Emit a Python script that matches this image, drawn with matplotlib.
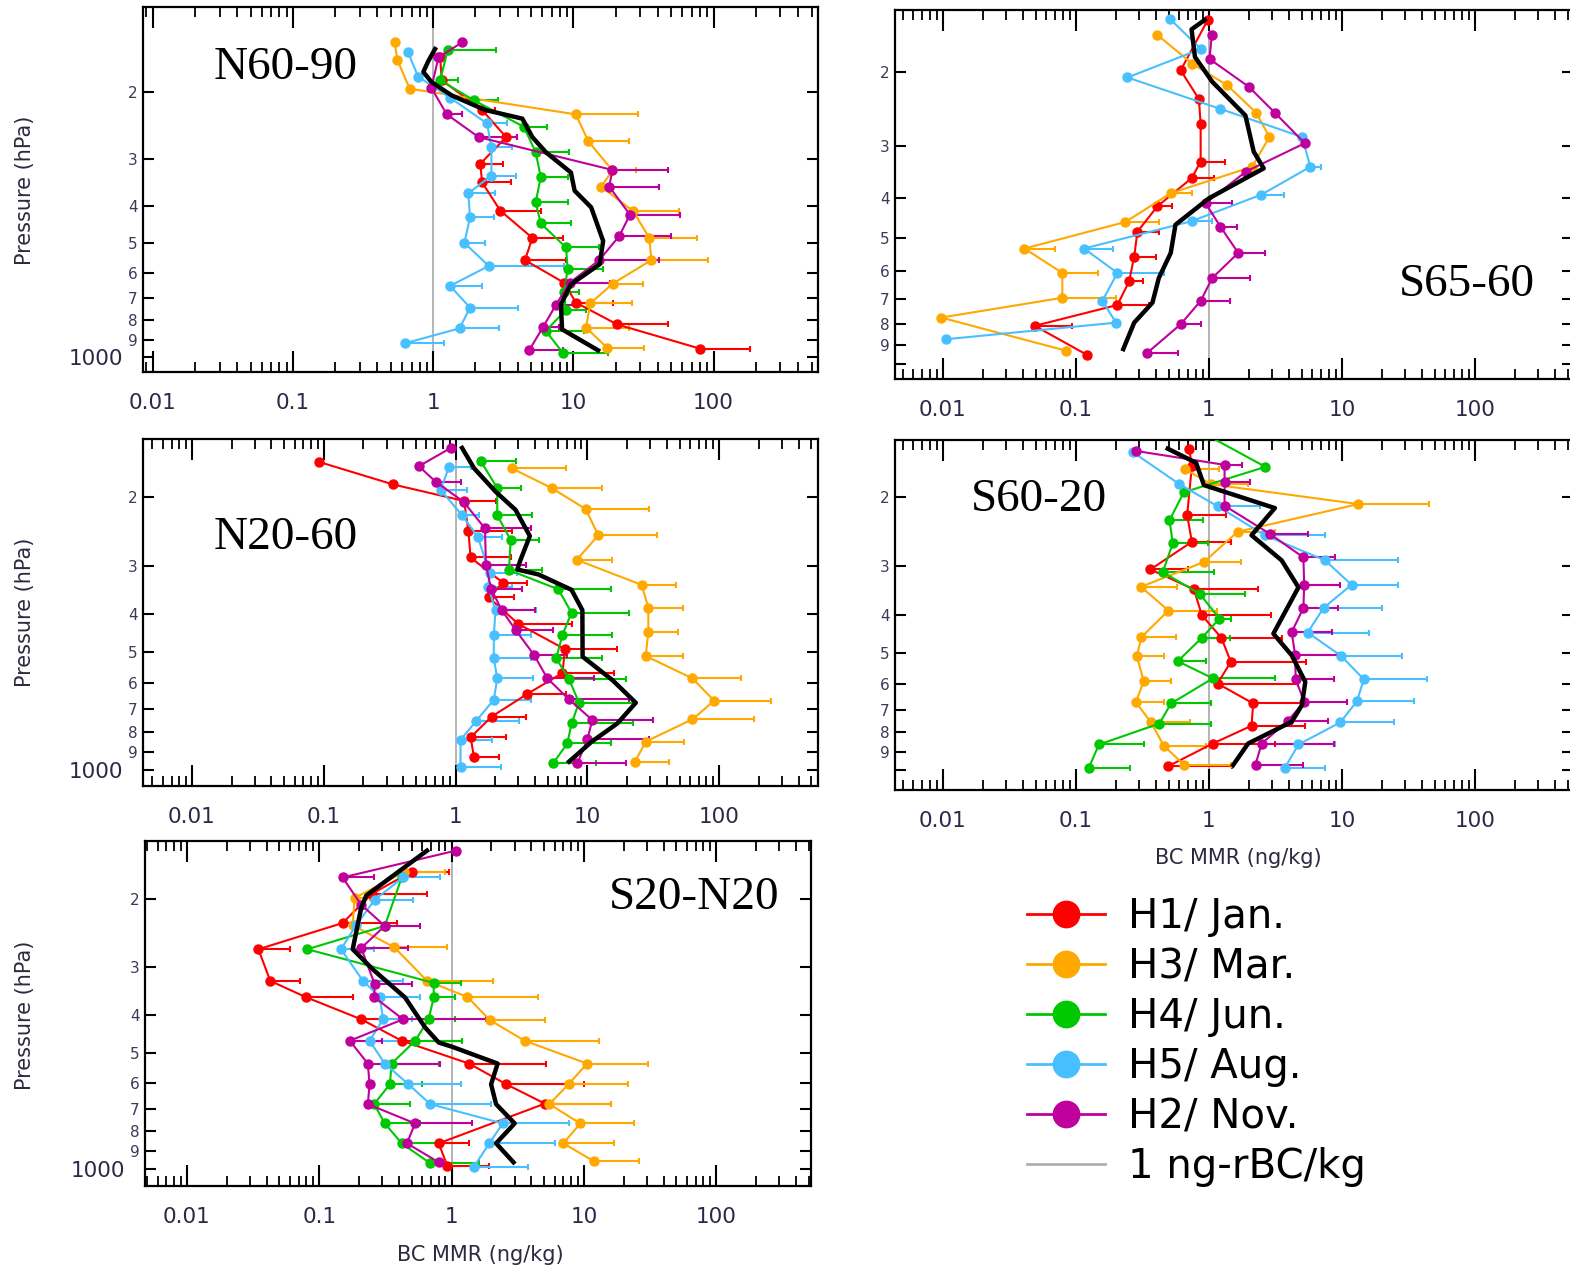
import numpy as np
import matplotlib
matplotlib.use("Agg")
import matplotlib.pyplot as plt
from matplotlib.lines import Line2D
from matplotlib.ticker import LogLocator, NullLocator, NullFormatter

# rows: (pressure hPa, BC MMR ng/kg, right end of error bar or None)
# ---- N60-90
N6090_JAN = [(162, 1.12, None), (186, 1.15, None), (223, 2.23, 2.78), (263, 3.31, 3.97), (309, 2.17, 3.14),
             (346, 2.23, 3.56), (411, 3.01, 5.84), (485, 5.1, 8.4), (555, 4.51, 8.85), (637, 8.6, None),
             (718, 10.4, 19.2), (820, 20.5, 47.6), (951, 80.6, 183)]
N6090_MAR = [(148, 0.53, None), (165, 0.556, None), (196, 0.68, None), (229, 10.4, 29), (270, 12.8, 25),
             (322, 19, 27.8), (355, 15.8, None), (413, 26.8, 57), (485, 34.8, 76), (555, 36, 91),
             (640, 19.1, 31.4), (722, 13.2, 26), (836, 12.3, 25), (945, 17.4, 32)]
N6090_JUN = [(155, 1.27, 2.81), (186, 1.12, 1.5), (210, 1.94, 2.9), (247, 4.43, 6.5), (288, 5.38, 9.36),
             (335, 5.85, 9.2), (391, 5.38, 9.1), (444, 5.85, 9.6), (514, 8.86, 15.3), (586, 9.1, 16.2),
             (672, 8.6, 11), (753, 8.8, 12.3), (853, 6.35, 12), (974, 8.4, 17.6)]
N6090_AUG = [(157, 0.66, None), (182, 0.78, None), (207, 1.32, None), (242, 2.42, 3.37), (280, 2.6, 3.66),
             (332, 2.6, 3.9), (370, 1.78, 2.78), (428, 1.83, 2.7), (500, 1.67, 2.33), (575, 2.49, 8.6),
             (649, 1.32, 2.23), (741, 1.83, 4.04), (840, 1.54, 2.93), (920, 0.626, 1.2)]
N6090_NOV = [(148, 1.6, None), (162, 1.09, None), (195, 0.97, None), (229, 1.25, 1.6), (263, 2.11, 3.97),
             (321, 19, 47.6), (355, 18, 41), (421, 25.3, 57.5), (479, 21.3, 50), (555, 15.3, 41),
             (637, 9.4, 18.1), (729, 7.5, 11), (833, 6.08, 7.9), (960, 4.83, 8.4)]
N6090_MEAN = [(154, 1.03), (166, 0.92), (177, 0.85), (188, 0.97), (204, 1.35), (223, 2.35), (235, 4.32),
              (263, 5.1), (288, 6.35), (326, 9.6), (364, 10.2), (403, 13.4), (494, 16.3), (569, 15.4),
              (643, 9.6), (725, 8.15), (845, 8.3), (898, 11), (960, 15)]

# ---- S65-60 (no June data)
S6560_JAN = [(150, 0.98, None), (198, 0.613, None), (232, 0.84, None), (266, 0.866, None), (328, 0.866, 1.33),
             (359, 0.74, 1.09), (419, 0.41, 0.53), (482, 0.29, 0.42), (553, 0.274, 0.4), (634, 0.251, 0.32),
             (722, 0.205, 0.355), (810, 0.049, 0.094), (952, 0.122, None)]
S6560_MAR = [(163, 0.41, None), (191, 0.75, None), (215, 1.37, None), (250, 2.26, None), (286, 2.85, None),
             (337, 2.11, None), (390, 0.516, 0.74), (457, 0.235, 0.42), (529, 0.041, 0.07), (605, 0.079, 0.147),
             (694, 0.079, 0.2), (774, 0.0097, None), (929, 0.084, None)]
S6560_AUG = [(149, 0.507, None), (176, 0.87, None), (206, 0.244, None), (245, 1.22, None), (286, 5.01, None),
             (337, 5.79, 6.9), (393, 2.48, 3.65), (455, 0.74, 1.06), (529, 0.115, 0.19), (605, 0.205, 0.46),
             (706, 0.158, None), (796, 0.2, None), (872, 0.0106, None)]
S6560_NOV = [(163, 1.05, None), (186, 1.01, None), (217, 2.0, None), (251, 3.16, None), (296, 5.25, None),
             (346, 1.9, None), (412, 0.944, 1.5), (469, 1.22, 1.63), (542, 1.66, 2.66), (622, 1.06, 2.05),
             (706, 0.866, 1.45), (803, 0.613, 0.866), (943, 0.34, 0.59)]
S6560_MEAN = [(150, 0.93), (158, 0.74), (184, 0.785), (211, 1.06), (254, 1.88), (310, 2.17), (340, 2.58),
              (401, 1.0), (464, 0.56), (542, 0.516), (622, 0.42), (713, 0.376), (796, 0.274), (921, 0.227)]

# ---- N20-60
N2060_JAN = [(163, 0.0927, None), (186, 0.336, None), (205, 1.16, 2.01), (244, 1.25, 2.69), (286, 1.3, 2.62),
             (332, 2.29, 3.5), (362, 1.79, 2.77), (423, 2.99, 7.69), (491, 6.77, 16.9), (565, 6.46, 16),
             (639, 3.5, 6.84), (730, 1.88, 3.4), (825, 1.3, 2.4), (928, 1.38, 2.13)]
N2060_MAR = [(169, 2.66, 6.84), (190, 5.36, 13), (215, 9.71, 29.4), (251, 12.1, 34), (290, 8.3, 15.5),
             (336, 25.8, 46.9), (384, 29, 52.7), (443, 29, 48.3), (511, 27.7, 52.7), (583, 62.7, 146),
             (665, 91.6, 247), (742, 62.7, 184.5), (846, 27.7, 54.2), (952, 23, 41.7)]
N2060_JUN = [(162, 1.55, 2.85), (190, 2.07, 3.11), (223, 2.07, 3.83), (258, 2.62, 4.3), (308, 2.54, 4.5),
             (345, 6.02, 15), (396, 7.58, 20.7), (452, 6.46, 15.5), (518, 5.8, 13), (586, 7.26, 19.6),
             (673, 8.64, 22.6), (760, 7.58, 22), (855, 7.05, 15), (961, 5.5, 11.6)]
N2060_AUG = [(168, 0.89, 1.3), (192, 0.769, 1.22), (223, 1.12, 1.5), (254, 1.48, 2.26), (314, 1.81, 2.9),
             (340, 1.77, 2.7), (390, 2.01, 4.05), (452, 1.95, 3.71), (518, 1.95, 3.71), (583, 2.07, 3.9),
             (661, 1.95, 3.71), (748, 1.44, 3.03), (838, 1.09, 1.9), (981, 1.09, 2.2)]
N2060_NOV = [(150, 0.92, None), (167, 0.527, None), (183, 0.705, 1.09), (206, 1.15, None), (241, 1.67, 3.71),
             (299, 1.7, 3.4), (344, 1.86, 3.2), (390, 2.24, 4.0), (438, 2.85, 5.5), (508, 3.94, 7.0),
             (583, 4.97, 11.2), (660, 7.26, 20.7), (745, 10.9, 31.2), (835, 10, 29.4), (961, 8.4, 19.6)]
N2060_MEAN = [(150, 1.12), (169, 1.38), (194, 2.01), (216, 2.85), (252, 3.66), (290, 3.11), (307, 2.94),
              (316, 4.25), (346, 7.58), (390, 9.16), (513, 9.2), (589, 15.5), (673, 23.3), (760, 16.9),
              (846, 10.8), (952, 7.26)]

# ---- S60-20
S6020_JAN = [(150, 0.71, None), (166, 0.744, None), (222, 0.686, 1.35), (260, 0.744, 1.47), (306, 0.363, 0.694),
             (344, 0.77, 2.35), (401, 0.885, 2.92), (458, 1.24, 3.52), (528, 1.46, 5.35), (600, 1.16, 4.7),
             (675, 2.15, 5.6), (770, 2.09, 5.3), (855, 1.07, 3.13), (977, 0.496, 1.49)]
S6020_MAR = [(169, 0.655, 1.2), (185, 1.04, 1.97), (208, 13.3, 45), (245, 1.64, 3.13), (293, 0.916, 1.74),
             (339, 0.308, 0.576), (390, 0.496, 1.14), (456, 0.311, 0.567), (510, 0.287, 0.46), (592, 0.323, 0.519),
             (670, 0.282, 0.46), (755, 0.367, 0.715), (866, 0.457, 0.955), (968, 0.647, 1.47)]
S6020_JUN = [(138, 0.95, None), (167, 2.66, None), (194, 0.647, None), (229, 0.505, 0.9), (262, 0.535, 0.98),
             (311, 0.449, 1.1), (353, 0.85, 1.86), (409, 1.2, 1.47), (458, 0.885, 1.43), (526, 0.583, 0.95),
             (582, 1.07, 3.13), (675, 0.519, 1.04), (760, 0.424, 1.04), (860, 0.149, 0.327), (986, 0.125, 0.256)]
S6020_AUG = [(153, 0.267, None), (185, 0.6, None), (211, 1.17, 2.41), (250, 2.63, 7.4), (290, 7.48, 26.5),
             (335, 11.8, 26.5), (384, 7.27, 20), (444, 5.53, 15.9), (510, 9.87, 28.4), (585, 14.58, 43.9),
             (666, 12.98, 34.8), (755, 9.71, 24.6), (860, 4.71, 8.9), (986, 3.73, 7.4)]
S6020_NOV = [(152, 0.282, None), (165, 1.31, 1.76), (183, 1.31, 2.03), (210, 1.31, None), (248, 2.87, 5.53),
             (285, 5.13, 8.9), (336, 5.2, 9.71), (384, 5.13, 9.4), (443, 4.19, 8.4), (506, 4.44, 9.4),
             (585, 4.49, 8.65), (668, 5.2, 11), (750, 3.9, 7.9), (855, 2.49, 8.65), (968, 2.24, 5.13)]
S6020_MEAN = [(150, 0.49), (163, 0.8), (186, 0.917), (213, 3.13), (250, 2.09), (290, 3.52), (340, 4.71),
              (447, 3.05), (508, 4.19), (594, 5.3), (682, 5.0), (752, 4.19), (855, 1.97), (971, 1.52)]

# ---- S20-N20
S20N20_JAN = [(170, 0.5, 0.96), (194, 0.25, 0.65), (231, 0.15, 0.385), (270, 0.0347, 0.06), (326, 0.0426, 0.072),
              (359, 0.0788, 0.179), (410, 0.2075, 0.4), (466, 0.42, 1.2), (534, 1.357, 5.2), (604, 2.59, 10),
              (678, 5.08, 16), (859, 0.8, 1.357), (981, 0.927, 1.93)]
S20N20_MAR = [(170, 0.44, 0.9), (199, 0.185, 0.24), (234, 0.179, None), (267, 0.37, 0.927), (326, 0.652, 2.04),
              (359, 1.318, 4.52), (412, 1.95, 5.08), (466, 3.57, 12.98), (534, 10.57, 30.4), (604, 7.66, 21.4),
              (680, 5.48, 15.94), (763, 9.4, 24), (859, 7.0, 16.9), (956, 11.89, 26.2)]
S20N20_JUN = [(176, 0.42, None), (235, 0.313, None), (270, 0.0812, None), (330, 0.733, 1.17), (360, 0.733, 1.07),
              (410, 0.671, 1.07), (466, 0.531, 1.2), (534, 0.352, 0.8), (604, 0.342, 0.6), (680, 0.26, 0.486),
              (763, 0.313, 0.58), (859, 0.42, 0.8), (968, 0.691, 1.62)]
S20N20_AUG = [(176, 0.43, 0.824), (201, 0.2625, 0.515), (234, 0.19, None), (270, 0.146, 0.26), (326, 0.214, 0.43),
              (359, 0.287, 0.58), (410, 0.304, 0.5), (466, 0.24, 0.42), (534, 0.313, 0.824), (604, 0.472, 1.17),
              (680, 0.691, 1.99), (763, 2.44, 7.66), (859, 1.93, 6.06), (987, 1.48, 3.79)]
S20N20_NOV = [(150, 1.073, None), (176, 0.15, 0.26), (207, 0.2075, None), (235, 0.313, 0.58), (268, 0.2075, 0.47),
              (333, 0.263, 0.5), (359, 0.26, None), (410, 0.43, 1.82), (466, 0.17, 0.3), (534, 0.233, 0.82),
              (604, 0.24, None), (680, 0.233, None), (763, 0.53, 1.44), (859, 0.46, None), (962, 0.8, None)]
S20N20_MEAN = [(150, 0.652), (196, 0.2267), (211, 0.2075), (270, 0.179), (305, 0.2555), (360, 0.445),
               (431, 0.633), (471, 0.8), (483, 1.01), (534, 2.23), (604, 1.99), (680, 2.17), (763, 3.0),
               (859, 2.17), (962, 2.94)]

SEASONS = ["H1/ Jan.", "H3/ Mar.", "H4/ Jun.", "H5/ Aug.", "H2/ Nov."]
COLORS = ["#ff0000", "#ffa800", "#00c800", "#48c0ff", "#c0009c"]
XTICKS = [0.01, 0.1, 1, 10, 100]
XLABELS = ["0.01", "0.1", "1", "10", "100"]
YTICKS = [200, 300, 400, 500, 600, 700, 800, 900, 1000]
YLABELS = ["2", "3", "4", "5", "6", "7", "8", "9", "1000"]

TICKC = "#2a2a48"

# panel: name, series (same order as SEASONS), mean, rect px (l, t, r, b), xlim, ylim, name pos, show 1000
panels = [
    ("N60-90", [N6090_JAN, N6090_MAR, N6090_JUN, N6090_AUG, N6090_NOV], N6090_MEAN,
     (143, 7, 818, 372), (0.0085, 556), (1095, 119.3), (0.212, 0.833), True),
    ("S65-60", [S6560_JAN, S6560_MAR, None, S6560_AUG, S6560_NOV], S6560_MEAN,
     (895, 10, 1573, 379), (0.00436, 546), (1086, 142), (0.843, 0.255), False),
    ("N20-60", [N2060_JAN, N2060_MAR, N2060_JUN, N2060_AUG, N2060_NOV], N2060_MEAN,
     (143, 439, 818, 786), (0.00425, 562), (1099, 142.3), (0.212, 0.715), True),
    ("S60-20", [S6020_JAN, S6020_MAR, S6020_JUN, S6020_AUG, S6020_NOV], S6020_MEAN,
     (895, 440, 1573, 790), (0.00436, 546), (1125, 142.5), (0.212, 0.83), False),
    ("S20-N20", [S20N20_JAN, S20N20_MAR, S20N20_JUN, S20N20_AUG, S20N20_NOV], S20N20_MEAN,
     (145, 841, 811, 1186), (0.00482, 521), (1108, 141.6), (0.824, 0.835), True),
]

W, H = 1570, 1272
plt.rcParams['font.family'] = ['DejaVu Sans']
fig = plt.figure(figsize=(W / 100, H / 100), dpi=100)


def draw_series(ax, rows, color):
    p = np.array([r[0] for r in rows], float)
    v = np.array([r[1] for r in rows], float)
    hi = np.array([np.nan if r[2] is None else r[2] for r in rows], float)
    ax.errorbar(v, p, xerr=[np.zeros_like(v), hi - v], fmt='none', ecolor=color,
                elinewidth=1.5, capsize=2.5, capthick=1.5, zorder=2)
    ax.plot(v, p, '-o', color=color, lw=1.5, ms=6.5, zorder=3)


for name, series, mean, rect, xlim, ylim, tpos, show1000 in panels:
    l, t, r, b = rect
    ax = fig.add_axes([l / W, 1 - b / H, (r - l) / W, (b - t) / H])
    ax.set_xscale('log')
    ax.set_yscale('log')
    ax.axvline(1, color='#a8a8a8', lw=1.2, zorder=1)
    for rows, c in zip(series, COLORS):
        if rows is not None:
            draw_series(ax, rows, c)
    ax.plot([m[1] for m in mean], [m[0] for m in mean], color='black', lw=3.2, zorder=4,
            solid_joinstyle='round')
    ax.set_xlim(*xlim)
    ax.set_ylim(*ylim)

    ax.set_xticks(XTICKS, labels=XLABELS)
    ax.xaxis.set_minor_locator(LogLocator(base=10, subs=np.arange(2, 10), numticks=20))
    ax.xaxis.set_minor_formatter(NullFormatter())
    ylabels = YLABELS if show1000 else YLABELS[:-1] + [""]
    ax.set_yticks(YTICKS, labels=ylabels)
    ax.yaxis.set_minor_locator(NullLocator())
    ax.yaxis.set_minor_formatter(NullFormatter())

    ax.tick_params(axis='x', which='major', direction='in', length=15, width=1.5, top=True,
                   bottom=True, labelsize=15.5, pad=15, labelcolor=TICKC)
    ax.tick_params(axis='x', which='minor', direction='in', length=7, width=1.3, top=True, bottom=True)
    ax.tick_params(axis='y', which='major', direction='in', length=8, width=1.5, left=True,
                   right=True, labelsize=11, pad=4, labelcolor='#3a3a5a')
    last = ax.yaxis.get_major_ticks()[-1]
    last.tick1line.set_markersize(16)
    last.label1.set_fontsize(15.5)
    last.label1.set_color(TICKC)
    last.set_pad(14)
    for s in ax.spines.values():
        s.set_linewidth(1.6)

    ax.text(tpos[0], tpos[1], name, transform=ax.transAxes, ha='center', va='center',
            fontsize=34, family='Liberation Serif', zorder=6)

for yc in (190, 612, 1015):
    fig.text(25 / W, 1 - yc / H, "Pressure (hPa)", rotation=90, ha='center', va='center',
             fontsize=15, color='#2a2a40')
fig.text(1238 / W, 1 - 858 / H, "BC MMR (ng/kg)", ha='center', va='center', fontsize=15, color='#2a2a40')
fig.text(480 / W, 1 - 1255 / H, "BC MMR (ng/kg)", ha='center', va='center', fontsize=15, color='#2a2a40')

handles = [Line2D([], [], color=c, marker='o', ms=19, lw=2) for c in COLORS]
handles.append(Line2D([], [], color='#b0b0b0', lw=2))
fig.legend(handles, SEASONS + ["1 ng-rBC/kg"], loc='upper left', bbox_to_anchor=(1027 / W, 1 - 897 / H),
           frameon=False, fontsize=29, handlelength=1.94, handletextpad=0.57, labelspacing=0.25,
           borderpad=0, borderaxespad=0)

fig.savefig("out.png", dpi=100)
